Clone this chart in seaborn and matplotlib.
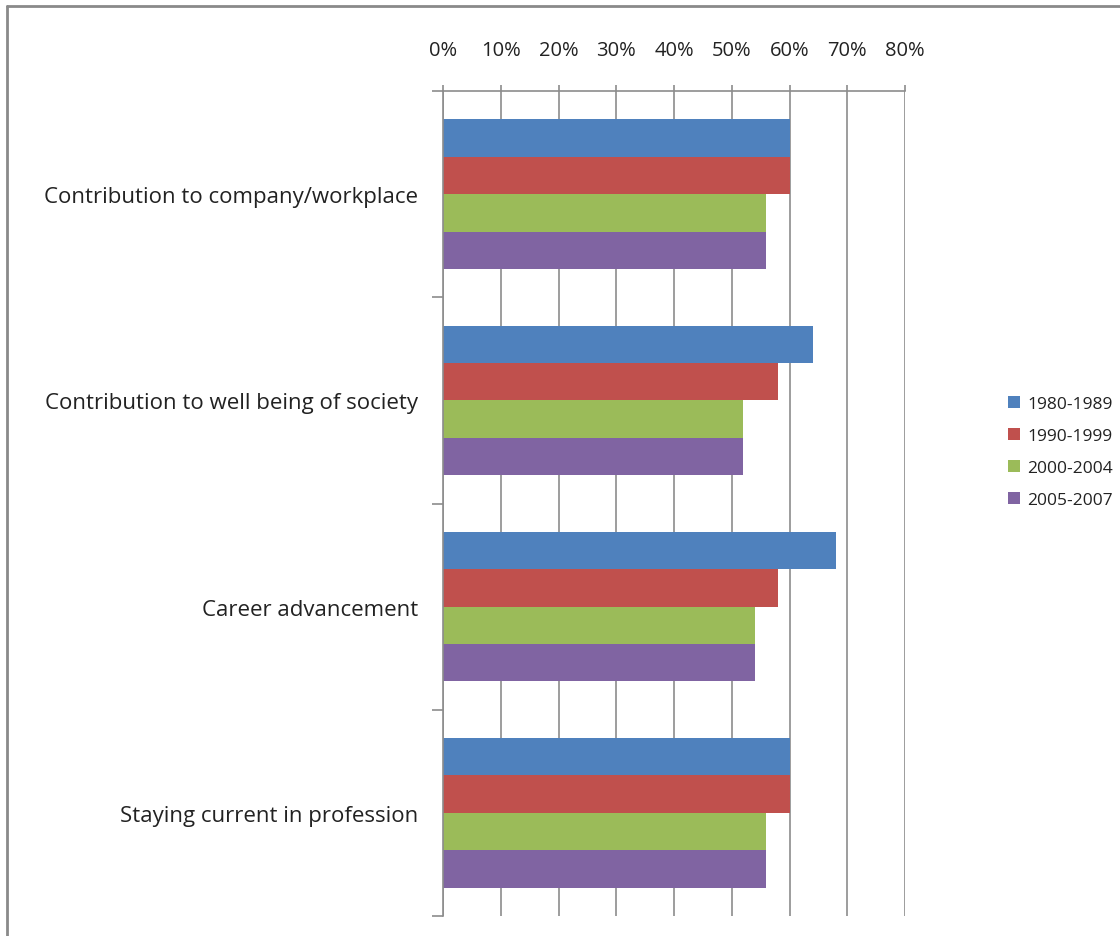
import matplotlib
matplotlib.use('Agg')
import matplotlib.pyplot as plt
import pandas as pd
import seaborn as sns
from matplotlib.ticker import FuncFormatter, FixedLocator
from matplotlib.lines import Line2D

categories = ['Contribution to company/workplace',
              'Contribution to well being of society',
              'Career advancement',
              'Staying current in profession']
periods = ['1980-1989', '1990-1999', '2000-2004', '2005-2007']
v_1980 = [0.60, 0.64, 0.68, 0.60]
v_1990 = [0.60, 0.58, 0.58, 0.60]
v_2000 = [0.56, 0.52, 0.54, 0.56]
v_2005 = [0.56, 0.52, 0.54, 0.56]
colors = ['#4F81BD', '#C0504D', '#9BBB59', '#8064A2']

rows = []
for p, vals in zip(periods, [v_1980, v_1990, v_2000, v_2005]):
    for c, v in zip(categories, vals):
        rows.append({'cat': c, 'period': p, 'val': v})
df = pd.DataFrame(rows)

sns.set_style('white')
plt.rcParams['font.family'] = ['Open Sans', 'DejaVu Sans']

fig = plt.figure(figsize=(11.2, 9.37), dpi=100)
ax = fig.add_axes([443/1120, 1-917/937, (905-443)/1120, (917-92)/937])

sns.barplot(data=df, x='val', y='cat', hue='period', orient='h',
            order=categories, hue_order=periods, palette=colors,
            saturation=1, width=0.725, ax=ax, linewidth=0)

ax.set_xlim(0, 0.8)
ax.set_ylim(3.5, -0.5)
ax.xaxis.tick_top()
ax.set_xticks([i/10 for i in range(9)])
ax.xaxis.set_major_formatter(FuncFormatter(lambda x, pos: f'{x*100:.0f}%'))
ax.tick_params(axis='x', which='major', direction='out', length=4, width=1.2,
               color='#8c8c8c', labelsize=14.5, pad=18, labelcolor='#222222')
ax.grid(axis='x', color='#8c8c8c', linewidth=1.2)
ax.set_axisbelow(True)

# category labels at centers, ticks at band boundaries
ax.set_yticks(range(len(categories)))
ax.set_yticklabels(categories)
ax.tick_params(axis='y', which='major', length=0, labelsize=16, pad=18, labelcolor='#222222')
ax.yaxis.set_minor_locator(FixedLocator([-0.5, 0.5, 1.5, 2.5, 3.5]))
ax.tick_params(axis='y', which='minor', direction='out', length=8, width=1.2, color='#8c8c8c', left=True)

for s in ['right', 'bottom']:
    ax.spines[s].set_visible(False)
for s in ['left', 'top']:
    ax.spines[s].set_color('#8c8c8c')
    ax.spines[s].set_linewidth(1.2)

ax.set_xlabel('')
ax.set_ylabel('')

ax.legend(loc='center left', bbox_to_anchor=(1008/1120, 1-453/937), bbox_transform=fig.transFigure,
          frameon=False, fontsize=12.5, handlelength=0.7, handleheight=0.7,
          handletextpad=0.4, labelspacing=0.9, borderpad=0, borderaxespad=0,
          labelcolor='#222222')

# outer frame (top and left edges visible)
fig.add_artist(Line2D([7/1120, 7/1120], [0, 1-7/937], color='#8a8a8a', lw=2, transform=fig.transFigure))
fig.add_artist(Line2D([7/1120, 1], [1-7/937, 1-7/937], color='#8a8a8a', lw=2, transform=fig.transFigure))

plt.savefig('out.png', dpi=100)
